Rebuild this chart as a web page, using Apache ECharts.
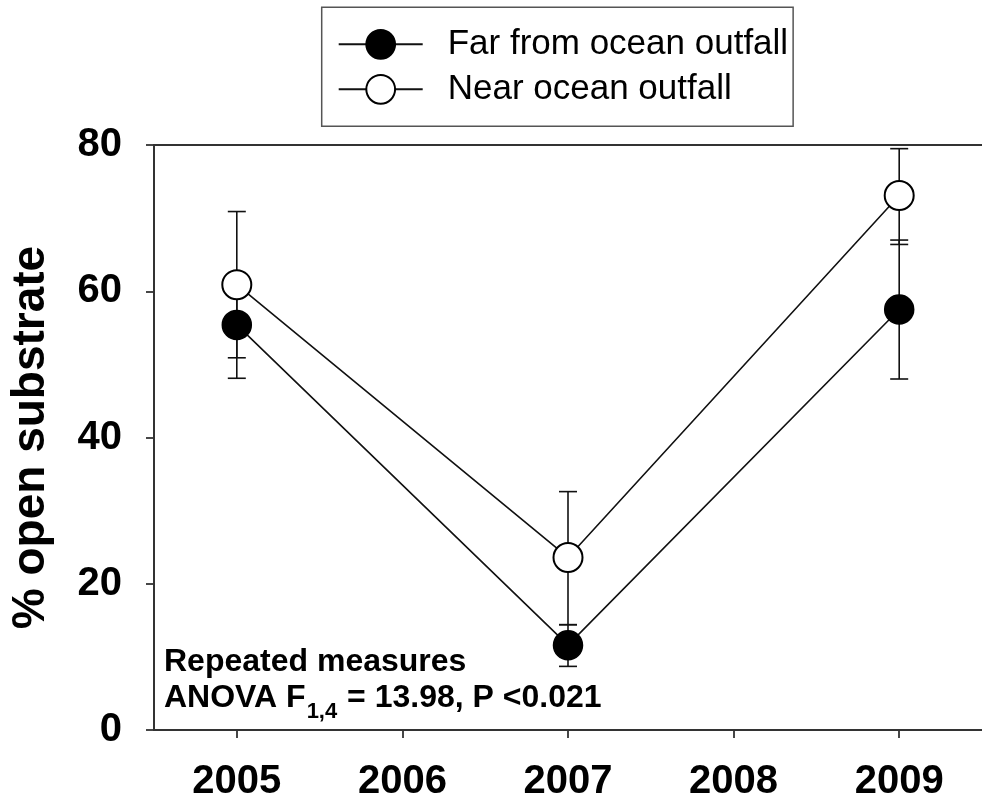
<!DOCTYPE html>
<html><head><meta charset="utf-8">
<script src="https://cdn.jsdelivr.net/npm/echarts@6/dist/echarts.min.js"></script>
<style>html,body{margin:0;padding:0;background:#fff}#c{width:982px;height:802px}</style>
</head><body><div id="c"></div>
<script>
const FONT = '"Liberation Sans", Arial, Helvetica, sans-serif';
const years = ['2005', '2006', '2007', '2008', '2009'];
const sampleYears = ['2005', '2007', '2009'];
const yTicks = [0, 20, 40, 60, 80];
const seriesNames = ['Far from ocean outfall', 'Near ocean outfall'];
const farMean = [55.4, 11.6, 57.5];
const farLow = [48.1, 8.7, 48.0];
const farHigh = [61.5, 14.4, 67.0];
const nearMean = [60.9, 23.6, 73.1];
const nearLow = [50.9, 14.4, 66.4];
const nearHigh = [70.9, 32.6, 79.5];

const pts = (m) => sampleYears.map((y, i) => [y, m[i]]);
const errs = (lo, hi) => sampleYears.map((y, i) => [y, lo[i], hi[i]]);

function errRender(params, api) {
  const x = api.value(0);
  const lo = api.coord([x, api.value(1)]);
  const hi = api.coord([x, api.value(2)]);
  const w = 9;
  const st = { stroke: '#111', lineWidth: 1.6 };
  return {
    type: 'group',
    children: [
      { type: 'line', shape: { x1: lo[0], y1: lo[1], x2: hi[0], y2: hi[1] }, style: st },
      { type: 'line', shape: { x1: lo[0] - w, y1: lo[1], x2: lo[0] + w, y2: lo[1] }, style: st },
      { type: 'line', shape: { x1: hi[0] - w, y1: hi[1], x2: hi[0] + w, y2: hi[1] }, style: st }
    ]
  };
}

const chart = echarts.init(document.getElementById('c'));
chart.setOption({
  animation: false,
  backgroundColor: '#fff',
  grid: { left: 152.7, right: -8.5, top: 145, bottom: 71.3 },
  legend: {
    orient: 'vertical', left: 321.7, top: 7.3,
    padding: [19, 5, 19, 16], itemGap: 9, itemWidth: 84, itemHeight: 36,
    borderColor: '#555', borderWidth: 1.5, backgroundColor: '#fff',
    textStyle: { fontSize: 35, fontFamily: FONT, color: '#000', padding: [0, 0, 0, 20], lineHeight: 36 },
    data: seriesNames
  },
  xAxis: [{
    type: 'category', data: years, boundaryGap: true,
    axisLine: { show: true, lineStyle: { color: '#333', width: 2 } },
    axisTick: { show: true, alignWithLabel: true, length: 8, lineStyle: { color: '#333', width: 1.8 } },
    axisLabel: { fontSize: 40, fontWeight: 'bold', fontFamily: FONT, color: '#000', margin: 32 },
    splitLine: { show: false }
  }, {
    type: 'category', data: years, position: 'top', boundaryGap: true,
    axisLine: { show: true, lineStyle: { color: '#333', width: 2 } },
    axisTick: { show: false }, axisLabel: { show: false }, splitLine: { show: false }
  }],
  yAxis: {
    type: 'value', min: yTicks[0], max: yTicks[yTicks.length - 1], interval: 20,
    name: '% open substrate', nameLocation: 'middle', nameGap: 100,
    nameTextStyle: { fontSize: 46, fontWeight: 'bold', fontFamily: FONT, color: '#000' },
    axisLine: { show: true, lineStyle: { color: '#333', width: 2 } },
    axisTick: { show: true, length: 8, lineStyle: { color: '#333', width: 1.8 } },
    axisLabel: { fontSize: 40, fontWeight: 'bold', fontFamily: FONT, color: '#000', margin: 32 },
    splitLine: { show: false }
  },
  graphic: [{
    type: 'text', x: 164, y: 645.9, z: 10,
    style: {
      text: '{a|Repeated measures}\n{a|ANOVA F}{s|1,4}{a| = 13.98, P <0.021}',
      align: 'left', verticalAlign: 'top',
      rich: {
        a: { fontSize: 32, fontWeight: 'bold', fontFamily: FONT, lineHeight: 36, verticalAlign: 'top', fill: '#000' },
        s: { fontSize: 22, fontWeight: 'bold', fontFamily: FONT, lineHeight: 22, verticalAlign: 'top', padding: [19.5, 1, 0, 1], fill: '#000' }
      }
    }
  }],
  series: [
    { type: 'custom', name: 'errFar', z: 1, renderItem: errRender, encode: { x: 0, y: [1, 2] }, data: errs(farLow, farHigh), silent: true },
    { type: 'custom', name: 'errNear', z: 1, renderItem: errRender, encode: { x: 0, y: [1, 2] }, data: errs(nearLow, nearHigh), silent: true },
    {
      type: 'line', name: seriesNames[0], data: pts(farMean), z: 3,
      symbol: 'circle', symbolSize: 29,
      lineStyle: { color: '#111', width: 1.6 },
      itemStyle: { color: '#000', borderColor: '#000', borderWidth: 1.5 }
    },
    {
      type: 'line', name: seriesNames[1], data: pts(nearMean), z: 3,
      symbol: 'circle', symbolSize: 29,
      lineStyle: { color: '#111', width: 1.6 },
      itemStyle: { color: '#fff', borderColor: '#000', borderWidth: 2 }
    }
  ]
});
</script>
</body></html>
